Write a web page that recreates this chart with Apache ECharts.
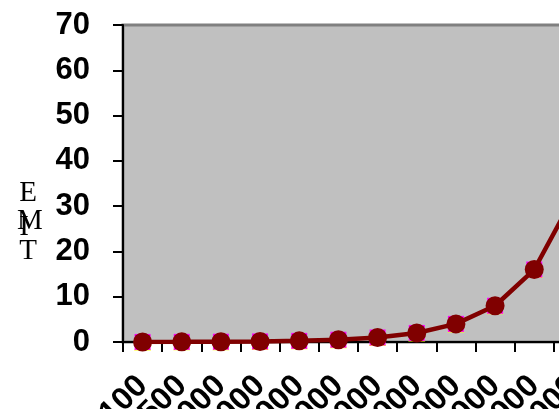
<!DOCTYPE html>
<html>
<head>
<meta charset="utf-8">
<script src="https://cdn.jsdelivr.net/npm/echarts@6/dist/echarts.min.js"></script>
<style>
  html, body { margin: 0; padding: 0; background: #ffffff; }
  #chart { width: 559px; height: 409px; }
</style>
</head>
<body>
<div id="chart"></div>
<script>
// Sample sizes along the x axis
const sizes = ['100', '500', '1000', '2000', '4000', '8000', '16000', '32000', '64000', '128000', '256000', '512000'];
// EMT values per sample size
const emt = [0.016, 0.031, 0.063, 0.125, 0.25, 0.5, 1, 2, 4, 8, 16, 32];
// Value axis ticks
const yMin = 0;
const yMax = 70;
const yStep = 10;
// Axis title, stacked letter by letter
const yTitleLetters = ['E', 'M', 'I', 'T'];

const chart = echarts.init(document.getElementById('chart'), null, { renderer: 'canvas' });

const labelFont = {
  fontFamily: '"Liberation Sans", Arial, sans-serif',
  fontWeight: 'bold',
  fontSize: 31,
  color: '#000000'
};

// Letter placement of the stacked title
const titlePos = {
  E: [28, 193],
  M: [30, 221],
  I: [24, 227],
  T: [28, 251]
};

const markerLayers = [
  { symbol: 'triangle', size: 17, color: '#ffff00' },
  { symbol: 'rect', size: 16, color: '#ff00ff' }
];

const series = markerLayers.map(m => ({
  type: 'line',
  data: emt,
  symbol: m.symbol,
  symbolSize: m.size,
  showAllSymbol: true,
  itemStyle: { color: m.color },
  lineStyle: { opacity: 0 },
  silent: true,
  z: 2
}));
series.push({
  type: 'line',
  data: emt,
  symbol: 'circle',
  symbolSize: 19,
  showAllSymbol: true,
  itemStyle: { color: '#800000' },
  lineStyle: { color: '#800000', width: 4.5 },
  z: 3
});

chart.setOption({
  animation: false,
  backgroundColor: '#ffffff',
  grid: {
    left: 123,
    top: 25,
    width: 470,
    height: 317,
    containLabel: false,
    outerBoundsMode: 'none',
    show: true,
    backgroundColor: '#c0c0c0',
    borderColor: '#808080',
    borderWidth: 3
  },
  xAxis: {
    type: 'category',
    data: sizes,
    boundaryGap: true,
    axisLine: { show: true, lineStyle: { color: '#000000', width: 2 } },
    axisTick: { show: true, length: 10, interval: 0, lineStyle: { color: '#000000', width: 2 } },
    axisLabel: Object.assign({ rotate: 45, interval: 0, margin: 39, hideOverlap: false }, labelFont, { fontSize: 32 }),
    splitLine: { show: false }
  },
  yAxis: {
    type: 'value',
    min: yMin,
    max: yMax,
    interval: yStep,
    axisLine: { show: true, lineStyle: { color: '#000000', width: 2 } },
    axisTick: { show: true, length: 10, lineStyle: { color: '#000000', width: 2 } },
    axisLabel: Object.assign({ margin: 33 }, labelFont),
    splitLine: { show: false }
  },
  graphic: yTitleLetters.map(ch => ({
    type: 'text',
    x: titlePos[ch][0],
    y: titlePos[ch][1],
    style: {
      text: ch,
      align: 'center',
      verticalAlign: 'middle',
      fontFamily: '"Liberation Serif", "Times New Roman", serif',
      fontSize: 29,
      fill: '#000000'
    },
    z: 10
  })),
  series: series
});
</script>
</body>
</html>
